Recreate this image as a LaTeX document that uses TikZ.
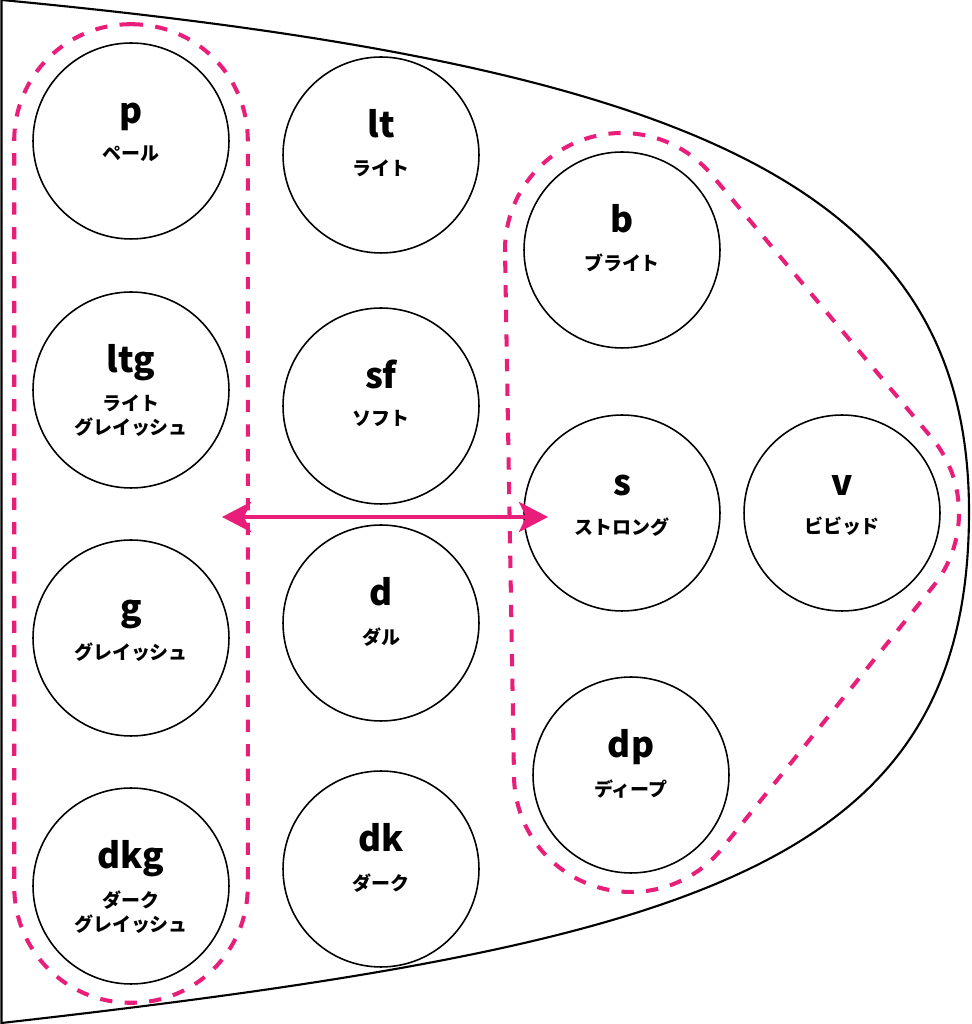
\documentclass[tikz,border=0pt]{standalone}
\usepackage{fontspec}
\setmainfont{Noto Sans CJK JP}
\usetikzlibrary{positioning, calc, fit, arrows.meta}
\definecolor{tonepink}{RGB}{232,30,122}

\begin{document}
\begin{tikzpicture}[
  x=0.02cm, y=0.02cm,
  tonestyle/.style={
        draw,
        circle,
        line width=0.9pt,
        minimum size=3.92cm,
        inner sep=0
  },
  abbrstyle/.style={
        anchor=base,
        inner sep=0,
        font=\bfseries\fontsize{20pt}{24pt}\selectfont
  },
  namestyle/.style={
        anchor=north,
        inner sep=0,
        align=center,
        font=\bfseries\fontsize{10.8pt}{14.2pt}\selectfont
  },
  groupstyle/.style={
        draw=tonepink,
        line width=2.3pt,
        dash pattern=on 7pt off 7pt
  }
]

    \useasboundingbox (0,0) rectangle (971,1024);

    % outline
    \draw[line width=1.2pt] (1.5,1024) .. controls (700,958) and (969,834) .. (969,512)
        .. controls (969,160) and (700,80) .. (1.5,1) -- cycle;

    \node[tonestyle] (p) at (131,883) {};
    \node[tonestyle] (ltg) at (131,634) {};
    \node[tonestyle] (g) at (131,386) {};
    \node[tonestyle] (dkg) at (131,138) {};

    \node[tonestyle] (lt) at (381,869) {};
    \node[tonestyle] (sf) at (381,618) {};
    \node[tonestyle] (d) at (381,401) {};
    \node[tonestyle] (dk) at (381,155) {};

    \node[tonestyle] (b) at (622,774) {};
    \node[tonestyle] (s) at (622,511) {};
    \node[tonestyle] (v) at (842,511) {};
    \node[tonestyle] (dp) at (631,249) {};

    \node[abbrstyle] (p_abbr) at ([yshift=0.35cm]p.center) {p};
    \node[namestyle] (p_name) at ([yshift=-0.08cm]p.center) {ペール};
    \node[abbrstyle] (ltg_abbr) at ([yshift=0.35cm]ltg.center) {ltg};
    \node[namestyle] (ltg_name) at ([yshift=-0.08cm]ltg.center) {ライト\\グレイッシュ};
    \node[abbrstyle] (g_abbr) at ([yshift=0.35cm]g.center) {g};
    \node[namestyle] (g_name) at ([yshift=-0.08cm]g.center) {グレイッシュ};
    \node[abbrstyle] (dkg_abbr) at ([yshift=0.35cm]dkg.center) {dkg};
    \node[namestyle] (dkg_name) at ([yshift=-0.08cm]dkg.center) {ダーク\\グレイッシュ};

    \node[abbrstyle] (lt_abbr) at ([yshift=0.35cm]lt.center) {lt};
    \node[namestyle] (lt_name) at ([yshift=-0.08cm]lt.center) {ライト};
    \node[abbrstyle] (sf_abbr) at ([yshift=0.35cm]sf.center) {sf};
    \node[namestyle] (sf_name) at ([yshift=-0.08cm]sf.center) {ソフト};
    \node[abbrstyle] (d_abbr) at ([yshift=0.35cm]d.center) {d};
    \node[namestyle] (d_name) at ([yshift=-0.08cm]d.center) {ダル};
    \node[abbrstyle] (dk_abbr) at ([yshift=0.35cm]dk.center) {dk};
    \node[namestyle] (dk_name) at ([yshift=-0.08cm]dk.center) {ダーク};

    \node[abbrstyle] (b_abbr) at ([yshift=0.35cm]b.center) {b};
    \node[namestyle] (b_name) at ([yshift=-0.08cm]b.center) {ブライト};
    \node[abbrstyle] (s_abbr) at ([yshift=0.35cm]s.center) {s};
    \node[namestyle] (s_name) at ([yshift=-0.08cm]s.center) {ストロング};
    \node[abbrstyle] (v_abbr) at ([yshift=0.35cm]v.center) {v};
    \node[namestyle] (v_name) at ([yshift=-0.08cm]v.center) {ビビッド};
    \node[abbrstyle] (dp_abbr) at ([yshift=0.35cm]dp.center) {dp};
    \node[namestyle] (dp_name) at ([yshift=-0.08cm]dp.center) {ディープ};

    % groups
    \node[groupstyle, fit=(p)(dkg), inner sep=0.36cm, rounded corners=2.32cm] (greyish) {};
    \draw[groupstyle] ($(b.center)+(180.98:117)$) arc[start angle=180.98, end angle=39.9, radius=117]
        -- ($(v.center)+(39.9:117)$) arc[start angle=39.9, end angle=-38.85, radius=117]
        -- ($(dp.center)+(-38.85:117)$) arc[start angle=-38.85, end angle=-179.02, radius=117]
        -- cycle;

    \coordinate (arrow_l) at (222,507);
    \coordinate (arrow_r) at (548,507);
    \draw[tonepink, line width=2.3pt, {Stealth[length=0.58cm, width=0.6cm, inset=0.14cm]}-{Stealth[length=0.58cm, width=0.6cm, inset=0.14cm]}] (arrow_l) -- (arrow_r);
\end{tikzpicture}
\end{document}
